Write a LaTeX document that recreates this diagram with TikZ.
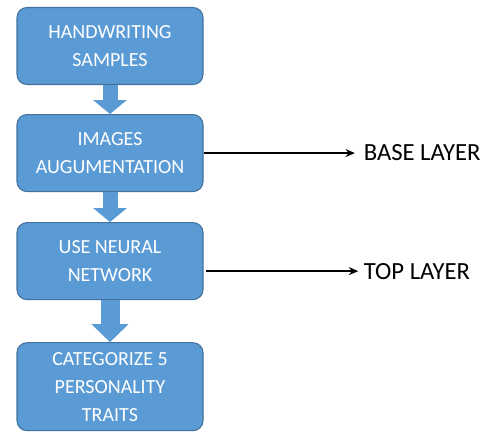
\documentclass[tikz,border=0pt]{standalone}
\usepackage{fontspec}
\setmainfont{Carlito}
\usepackage{tikz}
\usetikzlibrary{arrows.meta,positioning}
\usepackage{xcolor}
\definecolor{boxblue}{HTML}{5B9BD5}
\definecolor{boxedge}{HTML}{41719C}

\begin{document}
\begin{tikzpicture}[
    stage/.style={rectangle, draw=boxedge, line width=0.8pt, fill=boxblue, rounded corners=7.5pt, minimum width=139.5pt, minimum height=57.75pt, align=center, text=white, font=\fontsize{15}{21}\selectfont},
    layer/.style={inner sep=0pt, font=\fontsize{18.5}{22}\selectfont},
    flow/.style={boxblue, line width=11.25pt, -{Triangle[width=24.75pt,length=10.5pt]}},
    link/.style={line width=1.8pt, -{Stealth[length=7pt,width=6pt]}, shorten >=6.5pt}
]
  \useasboundingbox (0,0) rectangle (361.5pt,-325.5pt);

  % Stages
  \node[stage] (hand) at (82.5pt,-34.5pt) {HANDWRITING\\SAMPLES};
  \node[stage, below=21.75pt of hand] (aug) {IMAGES\\AUGUMENTATION};
  \node[stage, below=22.5pt of aug] (net) {USE NEURAL\\NETWORK};
  \node[stage, below=31.5pt of net, minimum height=66pt] (traits) {CATEGORIZE 5\\PERSONALITY\\TRAITS};

  % Layers
  \node[layer, right=120pt of aug, anchor=west] (base) {BASE LAYER};
  \node[layer, right=120pt of net, anchor=west, yshift=-7.5pt] (top) {TOP LAYER};

  % Arrows
  \draw[flow] (hand) -- (aug);
  \draw[flow] (aug) -- (net);
  \draw[flow, line width=14.25pt, -{Triangle[width=27pt,length=13.5pt]}] (net) -- (traits);
  \draw[link] (aug.east) -- (base.west);
  \draw[link, shorten <=2pt, shorten >=4pt] (net.east |- top.west) -- (top.west);
\end{tikzpicture}
\end{document}
